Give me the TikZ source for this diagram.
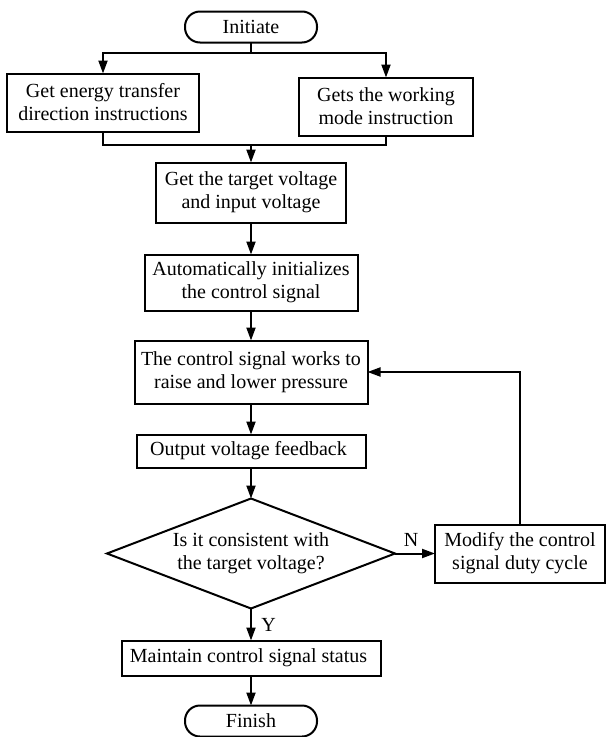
\documentclass[tikz,border=0pt]{standalone}
\usepackage{fontspec}
\setmainfont{Liberation Serif}
\usetikzlibrary{positioning}
\usetikzlibrary{shapes.geometric}
\usetikzlibrary{arrows.meta}

\begin{document}
\begin{tikzpicture}[node distance=31pt, auto, line width=2pt,
    >={Triangle[length=13pt,width=9pt]},
    font=\fontsize{20}{23}\selectfont]
    \useasboundingbox (0,0) rectangle (606pt,-737pt);
    \tikzset{
        stepbox/.style={draw, rectangle, align=center, inner xsep=3pt, inner ysep=2pt, outer sep=0pt},
        terminal/.style={draw, rectangle, rounded corners=15pt, minimum width=132pt, minimum height=31pt, inner sep=0pt, outer sep=0pt},
        decision/.style={draw, diamond, aspect=2.6, align=center, inner sep=1pt, outer sep=0pt}
    }

    \node[terminal] (initiate) at (251pt,-27pt) {Initiate};

    \node[stepbox, minimum width=192pt, minimum height=58pt, below=31pt of initiate, xshift=-148pt] (energy) {
        Get energy transfer\\
        direction instructions
    };
    \node[stepbox, minimum width=174pt, minimum height=58pt, below=35pt of initiate, xshift=135pt] (mode) {
        Gets the working\\
        mode instruction
    };

    \node[stepbox, minimum width=190pt, minimum height=60pt, below=31pt of energy, xshift=148pt] (target) {
        Get the target voltage\\
        and input voltage
    };
    \coordinate[above=18pt of target] (join);

    \node[stepbox, minimum width=213pt, minimum height=56pt, below=32pt of target] (autoinit) {
        Automatically initializes\\
        the control signal
    };
    \node[stepbox, minimum width=233pt, minimum height=63pt, below=30pt of autoinit] (control) {
        The control signal works to\\
        raise and lower pressure
    };
    \node[stepbox, minimum width=229pt, minimum height=33pt, below=31pt of control] (output) {
        Output voltage feedback
    };

    \node[decision, minimum width=288pt, minimum height=110pt, below=31pt of output] (check) {
        Is it consistent with\\
        the target voltage?
    };
    \node[stepbox, minimum width=170pt, minimum height=58pt, right=40pt of check] (modify) {
        Modify the control\\
        signal duty cycle
    };

    \node[stepbox, minimum width=259pt, minimum height=35pt, below=32pt of check] (maintain) {
        Maintain control signal status
    };
    \node[terminal, below=30pt of maintain] (finish) {Finish};

    \draw[->] (initiate.south) -- ++(0,-10pt) -| (energy.north);
    \draw[->] (initiate.south) -- ++(0,-10pt) -| (mode.north);
    \draw (energy.south) |- (join) -| (mode.south);
    \draw[->] (join) -- (target);
    \draw[->] (target) -- (autoinit);
    \draw[->] (autoinit) -- (control);
    \draw[->] (control) -- (output);
    \draw[->] (output) -- (check);
    \draw[->] (check) -- node[above, pos=0.4, yshift=3pt] {N} (modify);
    \draw[->] (modify.north) |- (control.east);
    \draw[->] (check) -- node[right, xshift=6pt] {Y} (maintain);
    \draw[->] (maintain) -- (finish);
\end{tikzpicture}
\end{document}
